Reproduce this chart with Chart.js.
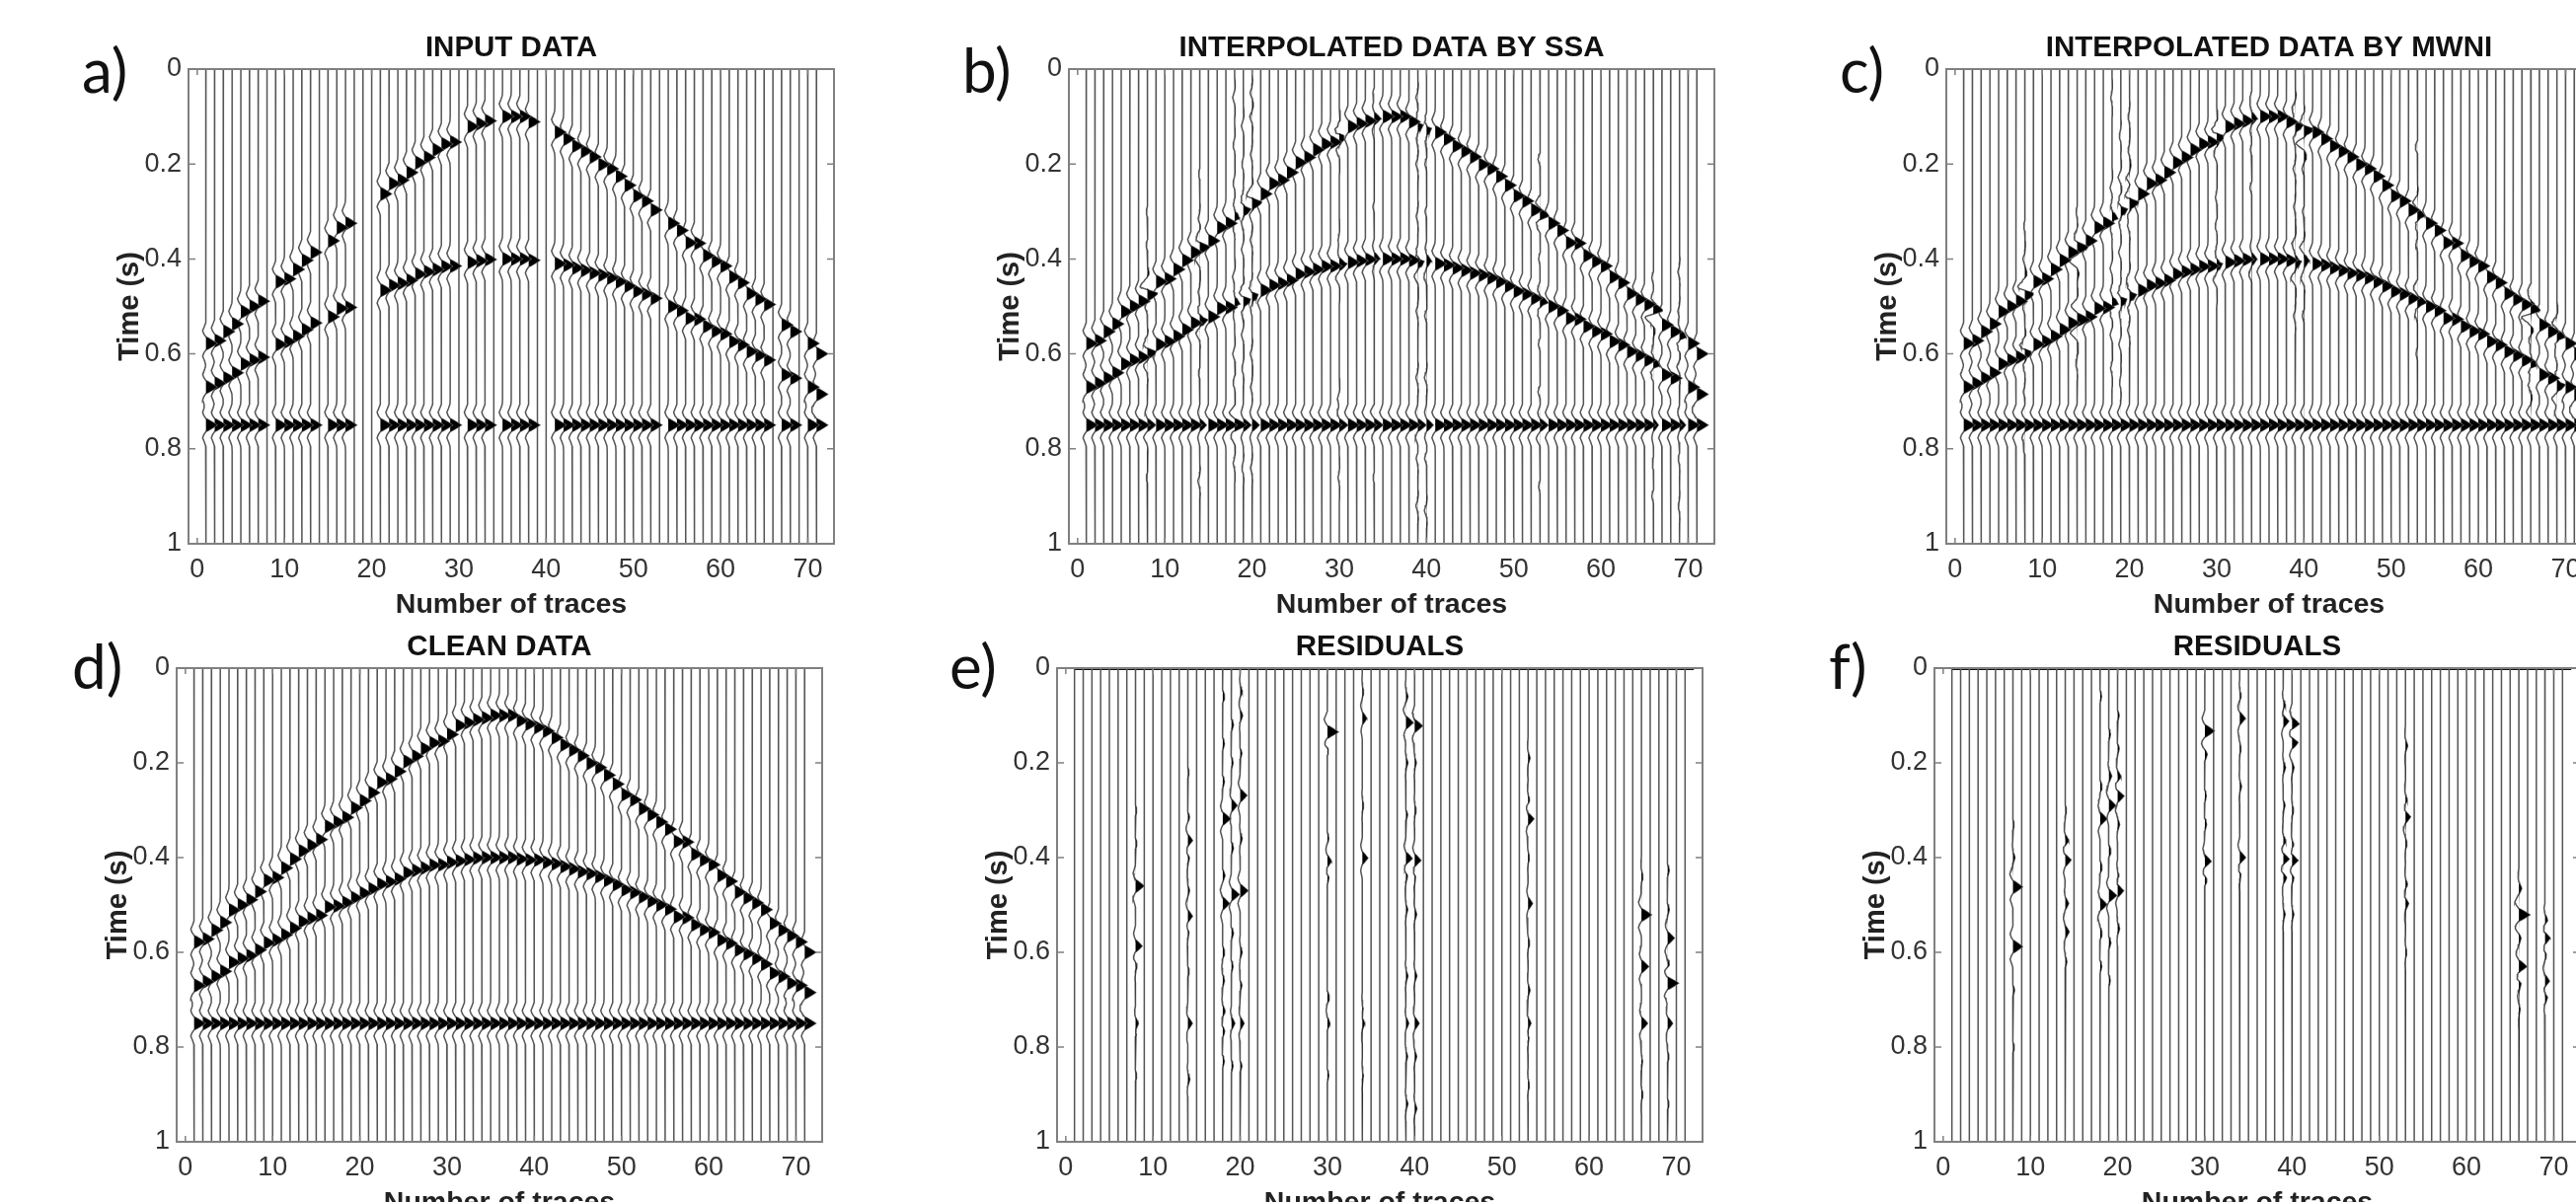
<!DOCTYPE html>
<html>
<head>
<meta charset="utf-8">
<script src="https://cdn.jsdelivr.net/npm/chart.js@4/dist/chart.umd.min.js"></script>
<style>
  html, body { margin: 0; background: #fff; width: 2610px; height: 1218px; overflow: hidden; }
  canvas { position: absolute; }
  .letter { position: absolute; font-family: Lato, sans-serif; font-size: 62px; line-height: 72px; color: #111; }
</style>
</head>
<body>
<script>
const xTicks = [0, 10, 20, 30, 40, 50, 60, 70];
const yTicks = [0, 0.2, 0.4, 0.6, 0.8, 1];
const traceCount = 71;
const flatTime = 0.75;

// picked arrival time of each event, trace 1 to 71
const upperPick = [0.578, 0.572, 0.553, 0.537, 0.511, 0.5, 0.489, 0.472, 0.448, 0.442, 0.422, 0.403, 0.386, 0.374, 0.362, 0.334, 0.325, 0.315, 0.295, 0.28, 0.263, 0.241, 0.234, 0.218, 0.197, 0.186, 0.17, 0.158, 0.154, 0.14, 0.121, 0.115, 0.109, 0.105, 0.1, 0.1, 0.1, 0.111, 0.118, 0.125, 0.133, 0.147, 0.162, 0.173, 0.185, 0.201, 0.21, 0.226, 0.245, 0.267, 0.278, 0.297, 0.31, 0.325, 0.34, 0.366, 0.367, 0.393, 0.405, 0.415, 0.438, 0.45, 0.473, 0.485, 0.496, 0.51, 0.539, 0.553, 0.565, 0.578, 0.6];
const lowerPick = [0.67, 0.662, 0.651, 0.64, 0.621, 0.613, 0.607, 0.595, 0.58, 0.574, 0.563, 0.549, 0.535, 0.528, 0.522, 0.504, 0.502, 0.495, 0.485, 0.475, 0.466, 0.456, 0.451, 0.445, 0.432, 0.427, 0.422, 0.416, 0.415, 0.41, 0.407, 0.404, 0.401, 0.4, 0.4, 0.4, 0.4, 0.403, 0.405, 0.405, 0.41, 0.413, 0.419, 0.424, 0.43, 0.434, 0.44, 0.448, 0.457, 0.468, 0.474, 0.483, 0.492, 0.5, 0.509, 0.525, 0.527, 0.542, 0.552, 0.558, 0.574, 0.581, 0.595, 0.603, 0.613, 0.625, 0.644, 0.651, 0.665, 0.67, 0.685];

// wavelet: time from the peak (s), deflection (trace widths)
const waveletTime = [-0.054, -0.044, -0.036, -0.027, -0.02, -0.0135, -0.011, -0.006, 0, 0.006, 0.011, 0.0135, 0.02, 0.027, 0.036, 0.044, 0.054];
const waveletAmp = [0, -0.03, -0.18, -0.38, -0.24, 0, 0.28, 0.74, 1.25, 0.74, 0.28, 0, -0.24, -0.38, -0.18, -0.03, 0];

const missingTraces = [8, 14, 18, 19, 20, 30, 34, 39, 40, 53, 66, 69];

// residual lumps on the missing traces, same order as missingTraces
const ssaResTimes = [
  [0.46, 0.587, 0.75, 0.627, 0.775, 0.3, 0.37, 0.86],
  [0.364, 0.4, 0.524, 0.557, 0.75, 0.868, 0.315, 0.47, 0.22, 0.64],
  [0.318, 0.497, 0.438, 0.725, 0.766, 0.06, 0.16, 0.6, 0.66, 0.24, 0.83],
  [0.29, 0.478, 0.75, 0.12, 0.38, 0.56, 0.2, 0.63, 0.84],
  [0.269, 0.47, 0.75, 0.05, 0.1, 0.36, 0.6, 0.18, 0.67, 0.84],
  [0.135, 0.408, 0.442, 0.75, 0.695, 0.171, 0.36, 0.86],
  [0.106, 0.401, 0.75, 0.72, 0.05, 0.29, 0.86],
  [0.115, 0.402, 0.75, 0.438, 0.51, 0.06, 0.2, 0.65, 0.92, 0.31, 0.82],
  [0.122, 0.406, 0.75, 0.44, 0.2, 0.52, 0.65, 0.82, 0.93, 0.3],
  [0.318, 0.28, 0.497, 0.75, 0.19, 0.58, 0.68, 0.78, 0.4, 0.88],
  [0.521, 0.63, 0.75, 0.44, 0.9, 0.83],
  [0.57, 0.627, 0.665, 0.75, 0.427, 0.51, 0.92, 0.82]
];
const ssaResAmps = [
  [0.75, 0.6, 0.3, 0.18, 0.15, 0.1, 0.12, 0.1],
  [0.45, 0.2, 0.45, 0.18, 0.4, 0.18, 0.15, 0.15, 0.1, 0.12],
  [0.7, 0.6, 0.2, 0.22, 0.18, 0.18, 0.15, 0.18, 0.15, 0.15, 0.14],
  [0.5, 0.7, 0.3, 0.18, 0.18, 0.18, 0.14, 0.14, 0.14],
  [0.6, 0.7, 0.35, 0.18, 0.22, 0.18, 0.18, 0.15, 0.15, 0.15],
  [1, 0.4, 0.2, 0.22, 0.18, 0.2, 0.12, 0.12],
  [0.4, 0.5, 0.25, 0.14, 0.12, 0.12, 0.1],
  [0.65, 0.6, 0.25, 0.22, 0.16, 0.18, 0.18, 0.18, 0.18, 0.15, 0.15],
  [0.7, 0.6, 0.4, 0.18, 0.15, 0.18, 0.2, 0.18, 0.2, 0.14],
  [0.55, 0.2, 0.4, 0.3, 0.18, 0.15, 0.18, 0.15, 0.12, 0.12],
  [0.9, 0.65, 0.55, 0.14, 0.14, 0.1],
  [0.6, 0.25, 1, 0.45, 0.15, 0.15, 0.12, 0.12]
];
const mwniResTimes = [
  [0.462, 0.588, 0.4, 0.68, 0.8, 0.33],
  [0.365, 0.405, 0.497, 0.557, 0.62, 0.3],
  [0.318, 0.499, 0.06, 0.25, 0.42, 0.56, 0.63],
  [0.29, 0.48, 0.228, 0.386, 0.58, 0.14, 0.66],
  [0.27, 0.47, 0.23, 0.33, 0.44, 0.55, 0.1, 0.17],
  [0.133, 0.408, 0.446, 0.182, 0.33, 0.27],
  [0.106, 0.4, 0.435, 0.06, 0.25, 0.17],
  [0.112, 0.08, 0.403, 0.367, 0.442, 0.21, 0.52, 0.29],
  [0.118, 0.157, 0.406, 0.375, 0.442, 0.21, 0.52, 0.3],
  [0.314, 0.28, 0.497, 0.457, 0.164, 0.37, 0.6],
  [0.521, 0.63, 0.666, 0.465, 0.57, 0.72],
  [0.57, 0.661, 0.695, 0.533, 0.604]
];
const mwniResAmps = [
  [0.85, 0.85, 0.18, 0.14, 0.12, 0.1],
  [0.35, 0.55, 0.3, 0.35, 0.14, 0.1],
  [0.6, 0.6, 0.12, 0.18, 0.18, 0.18, 0.14],
  [0.6, 0.7, 0.25, 0.2, 0.18, 0.14, 0.12],
  [0.6, 0.6, 0.35, 0.18, 0.25, 0.18, 0.14, 0.14],
  [0.85, 0.6, 0.25, 0.22, 0.15, 0.12],
  [0.5, 0.55, 0.18, 0.14, 0.16, 0.12],
  [0.55, 0.3, 0.6, 0.3, 0.35, 0.2, 0.16, 0.15],
  [0.7, 0.6, 0.65, 0.3, 0.25, 0.18, 0.16, 0.14],
  [0.5, 0.25, 0.3, 0.2, 0.2, 0.14, 0.12],
  [1, 0.75, 0.3, 0.25, 0.2, 0.12],
  [0.55, 0.45, 0.3, 0.3, 0.2]
];

function waveletAt(dt) {
  if (dt <= waveletTime[0] || dt >= waveletTime[waveletTime.length - 1]) return 0;
  let i = 1;
  while (waveletTime[i] < dt) i++;
  const f = (dt - waveletTime[i - 1]) / (waveletTime[i] - waveletTime[i - 1]);
  return waveletAmp[i - 1] + f * (waveletAmp[i] - waveletAmp[i - 1]);
}

// one trace = its list of [time, amplitude] events placed on the wavelet
function traceDatasets(n, events) {
  const knots = new Set([0, 1]);
  events.forEach(([t]) => waveletTime.forEach((w) => knots.add(+(t + w).toFixed(4))));
  const times = [...knots].filter((t) => t >= 0 && t <= 1).sort((a, b) => a - b);
  const values = times.map((t) =>
    events.reduce((sum, [e, a]) => sum + a * waveletAt(t - e), 0)
  );
  return [
    {
      data: times.map((t, i) => ({ x: n + Math.max(values[i], 0), y: t })),
      borderWidth: 0,
      backgroundColor: "#000",
      fill: { target: { value: n } },
    },
    {
      data: times.map((t, i) => ({ x: n + values[i], y: t })),
      borderColor: "#555",
      borderWidth: 1.5,
      fill: false,
    },
  ];
}

function cleanEvents(i) {
  return [[upperPick[i], 1], [lowerPick[i], 1], [flatTime, 1]];
}

function residualEvents(n, times, amps, sign) {
  const k = missingTraces.indexOf(n);
  if (k < 0) return [];
  return times[k].map((t, j) => [t, sign * amps[k][j]]);
}

function inputEvents(n) {
  return missingTraces.includes(n) ? [] : cleanEvents(n - 1);
}

const inwardTicks = {
  id: "inwardTicks",
  afterDatasetsDraw(chart) {
    const { ctx, chartArea: a, scales } = chart;
    ctx.save();
    ctx.strokeStyle = "#808080";
    ctx.lineWidth = 2;
    ctx.strokeRect(a.left, a.top, a.right - a.left, a.bottom - a.top);
    ctx.lineWidth = 1.5;
    ctx.beginPath();
    xTicks.forEach((v) => {
      const px = scales.x.getPixelForValue(v);
      ctx.moveTo(px, a.bottom);
      ctx.lineTo(px, a.bottom - 6);
      ctx.moveTo(px, a.top);
      ctx.lineTo(px, a.top + 6);
    });
    yTicks.forEach((v) => {
      const py = scales.y.getPixelForValue(v);
      ctx.moveTo(a.left, py);
      ctx.lineTo(a.left + 7, py);
      ctx.moveTo(a.right, py);
      ctx.lineTo(a.right - 7, py);
    });
    ctx.stroke();
    ctx.restore();
  },
};

function makePanel(letter, title, plotLeft, plotTop, plotHeight, letterLeft, letterMid, eventsFor, topLine) {
  const canvas = document.createElement("canvas");
  canvas.width = 130 + 654 + 20;
  canvas.height = 50 + plotHeight + 90;
  canvas.style.left = plotLeft - 130 + "px";
  canvas.style.top = plotTop - 50 + "px";
  document.body.appendChild(canvas);

  const label = document.createElement("div");
  label.className = "letter";
  label.textContent = letter;
  label.style.left = letterLeft + "px";
  label.style.top = letterMid - 36 + "px";
  document.body.appendChild(label);

  const datasets = [];
  for (let n = 1; n <= traceCount; n++) {
    datasets.push(...traceDatasets(n, eventsFor(n)));
  }
  if (topLine) {
    datasets.push({ data: [{ x: 1, y: 0.002 }, { x: 72, y: 0.002 }], borderColor: "#111", borderWidth: 2, fill: false });
  }

  new Chart(canvas, {
    type: "line",
    data: { datasets },
    plugins: [inwardTicks],
    options: {
      indexAxis: "y",
      responsive: false,
      animation: false,
      events: [],
      devicePixelRatio: 1,
      elements: { point: { radius: 0 }, line: { tension: 0 } },
      layout: { padding: { right: 20 } },
      plugins: {
        legend: { display: false },
        tooltip: { enabled: false },
        title: {
          display: true,
          text: title,
          fullSize: false,
          color: "#111",
          font: { family: "Liberation Sans", size: 29.5, weight: "bold" },
          padding: { top: 11.6, bottom: 3 },
        },
      },
      scales: {
        x: {
          type: "linear",
          min: -1,
          max: 73,
          grid: { display: false, drawTicks: false },
          border: { display: false },
          afterBuildTicks: (s) => { s.ticks = xTicks.map((value) => ({ value })); },
          afterFit: (s) => { s.height = 90; },
          ticks: { autoSkip: false, maxRotation: 0, padding: 10, color: "#333", font: { family: "Liberation Sans", size: 27 } },
          title: {
            display: true,
            text: "Number of traces",
            color: "#222",
            font: { family: "Liberation Sans", size: 28.5, weight: "bold" },
            padding: { top: 0, bottom: 10.6 },
          },
        },
        y: {
          type: "linear",
          reverse: true,
          min: 0,
          max: 1,
          grid: { display: false, drawTicks: false },
          border: { display: false },
          afterBuildTicks: (s) => { s.ticks = yTicks.map((value) => ({ value })); },
          afterFit: (s) => { s.width = 130; },
          ticks: {
            autoSkip: false,
            padding: 7,
            color: "#333",
            font: { family: "Liberation Sans", size: 27 },
            callback: (value) => String(value),
          },
          title: {
            display: true,
            text: "Time (s)",
            color: "#222",
            font: { family: "Liberation Sans", size: 29, weight: "bold" },
            padding: { top: 54, bottom: 0 },
          },
        },
      },
    },
  });
}

makePanel("a)", "INPUT DATA", 191, 70, 481, 83, 70, inputEvents, false);
makePanel("b)", "INTERPOLATED DATA BY SSA", 1083, 70, 481, 975, 70, (n) =>
  cleanEvents(n - 1).concat(residualEvents(n, ssaResTimes, ssaResAmps, -1)), false);
makePanel("c)", "INTERPOLATED DATA BY MWNI", 1972, 70, 481, 1864, 70, (n) =>
  cleanEvents(n - 1).concat(residualEvents(n, mwniResTimes, mwniResAmps, -1)), false);
makePanel("d)", "CLEAN DATA", 179, 677, 480, 73, 674, (n) => cleanEvents(n - 1), false);
makePanel("e)", "RESIDUALS", 1071, 677, 480, 962, 674, (n) => residualEvents(n, ssaResTimes, ssaResAmps, 1), true);
makePanel("f)", "RESIDUALS", 1960, 677, 480, 1853, 674, (n) => residualEvents(n, mwniResTimes, mwniResAmps, 1), true);
</script>
</body>
</html>
